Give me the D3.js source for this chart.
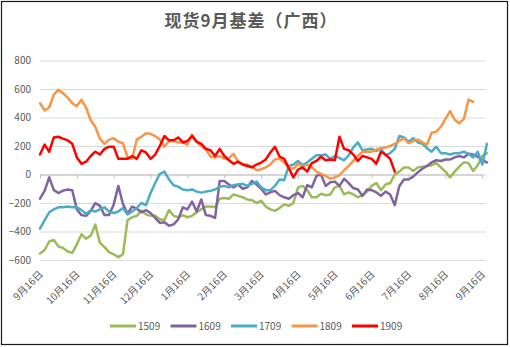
<!DOCTYPE html>
<html><head><meta charset="utf-8">
<script src="https://cdn.jsdelivr.net/npm/d3@7/dist/d3.min.js"></script>
<style>body{margin:0;background:#fff} svg{display:block} text{font-family:"Noto Sans CJK SC","Noto Sans",sans-serif}</style>
</head><body><svg id="c" width="510" height="347"></svg>
<script>
const chartTitle = "现货9月基差（广西）";
const xTickLabels = ["9月16日","10月16日","11月16日","12月16日","1月16日","2月16日","3月16日","4月16日","5月16日","6月16日","7月16日","8月16日","9月16日"];
const yTicks = [-600,-400,-200,0,200,400,600,800];
const seriesNames = ["1509","1609","1709","1809","1909"];
const seriesColors = ["#9BBB59","#8064A2","#4BACC6","#F79646","#FF0000"];
const stepsPerMonth = 8;

const s1509 = [-555,-530,-470,-460,-505,-515,-540,-550,-490,-420,-450,-430,-352,-480,-510,-545,-560,-580,-560,-320,-300,-290,-253,-280,-290,
-290,-314,-320,-250,-290,-300,-285,-300,-290,-265,-245,-225,-225,-230,-170,-165,-170,-140,-150,-160,-175,-180,-200,
-185,-225,-245,-255,-235,-210,-220,-200,-90,-80,-110,-160,-160,-135,-145,-140,-90,-80,-140,-125,-140,-160,-145,-120,
-80,-60,-110,-70,-60,0,20,50,50,25,50,55,60,65,80,50,20,-20,20,55,85,80,25,65,130,150];
const s1609 = [-170,-115,-20,-110,-130,-113,-105,-110,-245,-285,-290,-255,-200,-220,-285,-285,-210,-80,-205,-275,-225,-240,-265,-250,-270,
-305,-340,-335,-360,-350,-315,-230,-245,-190,-260,-175,-285,-290,-305,-45,-45,-70,-90,-70,-100,-90,-45,-70,
-100,-140,-125,-115,-145,-160,-170,-145,-130,-160,-75,-90,-10,0,-80,-55,-50,-80,-30,-60,-95,-105,-150,-105,
-110,-125,-150,-120,-140,-215,-80,-35,-35,-15,15,40,60,85,100,95,105,105,120,130,120,145,140,125,100,85];
const s1709 = [-380,-320,-265,-245,-230,-230,-225,-230,-230,-250,-275,-250,-260,-245,-230,-260,-270,-260,-235,-280,-260,-235,-200,-215,-130,
-60,5,20,-35,-75,-85,-105,-110,-105,-120,-127,-120,-115,-105,-85,-80,-90,-75,-70,-65,-80,-65,-50,
-90,-110,-110,-80,-35,-40,60,70,95,65,85,110,135,135,140,110,130,115,100,135,190,225,170,175,
180,165,180,135,150,180,270,260,230,255,225,215,185,160,195,150,150,140,150,150,160,145,120,160,70,215];
const s1809 = [500,450,470,560,595,570,540,500,480,525,470,380,335,250,215,245,255,230,220,120,110,245,265,290,285,
270,245,195,235,235,225,225,210,280,230,200,175,125,120,130,110,115,145,90,70,70,55,30,
37,50,70,107,110,85,50,40,75,55,70,50,20,5,-10,-30,-20,-5,30,60,95,130,160,160,
160,175,185,190,200,215,235,255,220,235,245,225,210,293,300,335,390,445,385,360,390,525,510];
const s1909 = [140,210,160,260,265,252,240,215,120,75,90,130,160,140,180,195,195,110,110,110,130,110,170,155,110,
140,200,270,240,240,260,225,235,270,230,215,180,170,130,180,130,100,75,90,70,60,50,70,
84,105,155,195,125,110,45,-20,35,50,20,80,95,125,100,105,100,265,180,170,140,95,130,120,110,75,160,140,110,20];
const allSeries = [s1509, s1609, s1709, s1809, s1909];

const svg = d3.select("#c");
const plotL = 40, plotR = 486, plotT = 60.5, plotB = 260;
const x = d3.scaleLinear().domain([0, 12]).range([plotL, 482.3]);
const y = d3.scaleLinear().domain([-600, 800]).range([plotB, plotT]);

svg.append("rect").attr("x",1.5).attr("y",1.5).attr("width",506).attr("height",343)
  .attr("fill","#fff").attr("stroke","#1a1a1a").attr("stroke-width",1.2);

svg.append("text").attr("x",251).attr("y",27).attr("text-anchor","middle")
  .attr("font-size",17).attr("font-weight","bold").attr("fill","#595959")
  .attr("letter-spacing",1).text(chartTitle);

// grid
const grid = svg.append("g").attr("transform",`translate(${plotL},0)`)
  .call(d3.axisLeft(y).tickValues(yTicks).tickSize(-(plotR-plotL)).tickFormat(""));
grid.select(".domain").remove();
grid.selectAll("line").attr("stroke","#d9d9d9").attr("stroke-width",1);

// y labels
const ya = svg.append("g").attr("transform",`translate(${plotL},0)`)
  .call(d3.axisLeft(y).tickValues(yTicks).tickSize(0).tickPadding(9));
ya.select(".domain").remove();
ya.selectAll("text").attr("font-size",10).attr("fill","#595959").style("font-family",'"Noto Sans CJK SC",sans-serif');

// zero axis with ticks
const za = svg.append("g").attr("transform",`translate(0,${y(0)})`)
  .call(d3.axisBottom(x).tickValues(d3.range(13)).tickSize(4).tickSizeOuter(0).tickFormat(""));
za.select(".domain").attr("stroke","#bfbfbf");
za.selectAll("line").attr("stroke","#bfbfbf");

// bottom labels
const xa = svg.append("g").attr("transform",`translate(0,${plotB})`)
  .call(d3.axisBottom(x).tickValues(d3.range(13)).tickSize(0).tickFormat(i => xTickLabels[i]));
xa.select(".domain").remove();
xa.selectAll("text").attr("y",0).attr("dy",0).attr("text-anchor","end")
  .attr("transform","translate(3,15) rotate(-45)")
  .attr("font-size",10).attr("fill","#595959").style("font-family",'"Noto Sans CJK SC",sans-serif');

// lines
const line = d3.line().x((d,i) => x(i / stepsPerMonth)).y(d => y(d));
allSeries.forEach((s, i) => {
  svg.append("path").datum(s).attr("d", line).attr("fill","none")
    .attr("stroke", seriesColors[i]).attr("stroke-width", 2.5)
    .attr("stroke-linejoin","round").attr("stroke-linecap","round");
});

// legend
const lg = svg.append("g");
seriesNames.forEach((n, i) => {
  const sx = 110 + i * 60.5;
  lg.append("line").attr("x1", sx).attr("x2", sx + 26).attr("y1", 326).attr("y2", 326)
    .attr("stroke", seriesColors[i]).attr("stroke-width", 3);
  lg.append("text").attr("x", sx + 28).attr("y", 326).attr("dy","0.35em")
    .attr("font-size", 10).attr("fill","#595959").text(n);
});
</script></body></html>
